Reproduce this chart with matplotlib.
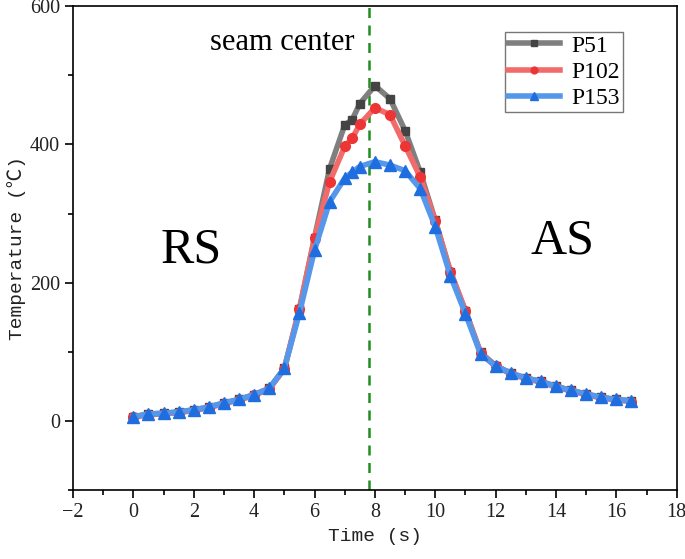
import matplotlib
matplotlib.use("Agg")
import matplotlib.pyplot as plt
from matplotlib.ticker import MultipleLocator

time = [0, 0.5, 1, 1.5, 2, 2.5, 3, 3.5, 4, 4.5, 5, 5.5, 6, 6.5, 7, 7.25, 7.5, 8,
        8.5, 9, 9.5, 10, 10.5, 11, 11.5, 12, 12.5, 13, 13.5, 14, 14.5, 15, 15.5, 16, 16.5]
p51 = [6, 10, 11, 13, 16, 20, 26, 31, 38, 47, 76, 162, 265, 365, 428, 436, 459, 485,
       466, 420, 360, 290, 216, 159, 99, 80, 69, 62, 57, 50, 44, 39, 34, 31, 29]
p102 = [5, 9, 10, 12, 15, 19, 25, 30, 37, 46, 75, 162, 264, 346, 397, 409, 429, 453,
        443, 398, 353, 289, 216, 159, 98, 79, 68, 61, 56, 49, 43, 38, 33, 30, 28]
p153 = [6, 10, 11, 13, 16, 20, 26, 31, 38, 47, 76, 156, 247, 317, 351, 360, 368, 375,
        370, 362, 336, 281, 210, 155, 97, 79, 69, 62, 57, 50, 44, 39, 34, 31, 29]
seam_x = 7.8

fig = plt.figure(figsize=(6.85, 5.59), dpi=100)
ax = fig.add_axes([0.1066, 0.1234, 0.8814, 0.8656])

ax.plot(time, p51, color='#7f7f7f', lw=4, marker='s', ms=6, mfc='#444444', mec='#444444',
        label='P51', zorder=3)
ax.plot(time, p102, color='#f26b6b', lw=4, marker='o', ms=7, mfc='#ee3535', mec='#ee3535',
        label='P102', zorder=4)
ax.plot(time, p153, color='#5597ea', lw=4, marker='^', ms=8, mfc='#1f6ee0', mec='#1f6ee0',
        label='P153', zorder=5)

ax.axvline(seam_x, color='#1f8f1f', lw=1.8, ls=(0, (4, 3)), zorder=2)

ax.set_xlim(-2, 18)
ax.set_ylim(-100, 600)
ax.xaxis.set_major_locator(MultipleLocator(2))
ax.xaxis.set_minor_locator(MultipleLocator(1))
ax.yaxis.set_major_locator(MultipleLocator(200))
ax.yaxis.set_minor_locator(MultipleLocator(100))
ax.tick_params(which='major', direction='out', length=6, width=1.2, labelsize=14.5)
ax.tick_params(which='minor', direction='out', length=3.5, width=1.2)
for lab in ax.get_xticklabels() + ax.get_yticklabels():
    lab.set_family(['Liberation Serif'])
    lab.set_color('#222222')
for s in ax.spines.values():
    s.set_linewidth(1.2)

ax.set_xlabel('Time (s)', family=['Liberation Mono', 'Noto Sans CJK SC'], fontsize=14,
              labelpad=4, color='#222222')
ax.set_ylabel('Temperature (℃)', family=['Liberation Mono', 'Noto Sans CJK SC'], fontsize=14,
              labelpad=3, color='#222222')

ax.text(4.92, 548, 'seam center', family='Liberation Serif', fontsize=22, ha='center', va='center')
ax.text(1.93, 247, 'RS', family='Liberation Serif', fontsize=36, ha='center', va='center')
ax.text(14.2, 260, 'AS', family='Liberation Serif', fontsize=36, ha='center', va='center')

leg = ax.legend(loc='upper right', bbox_to_anchor=(0.9106, 0.946),
                prop={'family': 'Liberation Serif', 'size': 17},
                frameon=True, fancybox=False, edgecolor='#555555', handlelength=2.2,
                borderpad=0.12, labelspacing=0.2, handletextpad=0.5, markerscale=0.7,
                borderaxespad=0)
leg.get_frame().set_linewidth(1.0)

fig.savefig('out.png', dpi=100)
